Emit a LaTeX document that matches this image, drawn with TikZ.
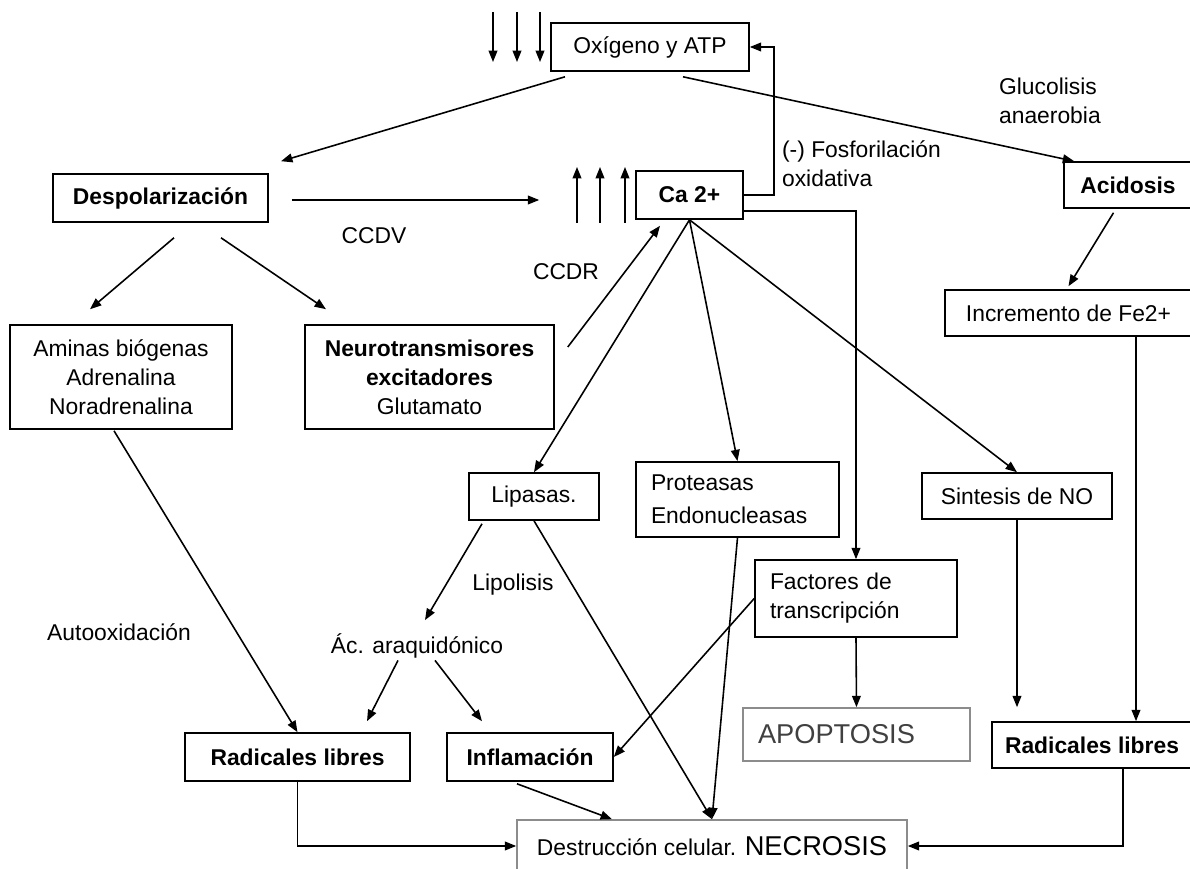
\documentclass[tikz,border=0pt]{standalone}
\usepackage{fontspec}
\setmainfont{Liberation Sans}
\usetikzlibrary{arrows.meta,calc,positioning}

\begin{document}
\begin{tikzpicture}[
    font=\fontsize{13}{16.5}\selectfont,
    box/.style={draw,line width=0.9pt,inner sep=2pt,align=center},
    lbox/.style={draw,line width=0.9pt,inner xsep=0.3cm,inner ysep=2pt,align=left},
    greybox/.style={draw=black!45,line width=0.9pt,inner sep=2pt},
    lbl/.style={inner sep=1pt,align=left},
    arr/.style={-{Triangle[length=6.5pt,width=5pt]},line width=0.9pt}]
  \useasboundingbox (0,0) rectangle (23.8,-17.38);
  % boxes
  \node[box,minimum width=3.96cm,minimum height=0.96cm] (oxy) at (13.0,-0.94) {Oxígeno y ATP};
  \node[box,minimum width=4.3cm,minimum height=0.96cm,font=\fontsize{13}{16.5}\selectfont\bfseries] (desp) at (3.21,-3.96) {Despolarización};
  \node[box,minimum width=2.14cm,minimum height=0.96cm,font=\fontsize{13}{16.5}\selectfont\bfseries] (ca) at (13.79,-3.90) {Ca 2+};
  \node[box,minimum width=2.56cm,minimum height=0.92cm,font=\fontsize{13}{16.5}\selectfont\bfseries] (acid) at (22.56,-3.70) {Acidosis};
  \node[box,minimum width=4.94cm,minimum height=0.92cm] (fe) at (21.37,-6.26) {Incremento de Fe2+};
  \node[box,minimum width=4.44cm,minimum height=2.08cm] (aminas) at (2.42,-7.54) {Aminas biógenas\\Adrenalina\\Noradrenalina};
  \node[box,minimum width=4.98cm,minimum height=2.08cm] (neuro) at (8.59,-7.54) {\textbf{Neurotransmisores}\\\textbf{excitadores}\\Glutamato};
  \node[box,minimum width=2.6cm,minimum height=0.94cm] (lip) at (10.68,-9.93) {Lipasas.};
  \node[lbox,text width=3.46cm,minimum height=1.5cm] (prot) at (14.75,-9.99) {Proteasas\\[2pt]Endonucleasas};
  \node[box,minimum width=3.8cm,minimum height=0.92cm] (sint) at (20.34,-9.92) {Sintesis de NO};
  \node[lbox,text width=3.44cm,minimum height=1.54cm] (fact) at (17.12,-11.97) {Factores de\\transcripción};
  \node[greybox,inner xsep=0.3cm,text width=3.94cm,align=left,minimum height=1.06cm,text=black!75,font=\fontsize{15.5}{18}\selectfont] (apop) at (17.13,-14.69) {APOPTOSIS};
  \node[box,minimum width=4.5cm,minimum height=0.96cm,font=\fontsize{13}{16.5}\selectfont\bfseries] (radl) at (5.95,-15.14) {Radicales libres};
  \node[box,minimum width=3.32cm,minimum height=0.96cm,font=\fontsize{13}{16.5}\selectfont\bfseries] (infl) at (10.6,-15.14) {Inflamación};
  \node[box,minimum width=4.0cm,minimum height=0.92cm,font=\fontsize{13}{16.5}\selectfont\bfseries] (radr) at (21.84,-14.90) {Radicales libres};
  \node[greybox,minimum width=7.8cm,minimum height=1.04cm] (necr) at (14.24,-16.92) {Destrucción celular. {\fontsize{15.5}{18}\selectfont NECROSIS}};
  % plain labels
  \node[lbl] (ccdv) at (7.48,-4.72) {CCDV};
  \node[lbl] (ccdr) at (11.32,-5.44) {CCDR};
  \node[lbl,anchor=west] (fosf) at (15.6,-3.28) {(-) Fosforilación\\oxidativa};
  \node[lbl,anchor=west] (gluc) at (19.94,-2.01) {Glucolisis\\anaerobia};
  \node[lbl] (lipo) at (10.26,-11.7) {Lipolisis};
  \node[lbl] (autox) at (2.38,-12.64) {Autooxidación};
  \node[lbl] (acar) at (8.34,-12.92) {Ác. araquidónico};
  % falling O2/ATP and rising Ca
  \foreach \x [count=\i] in {9.86,10.34,10.80} {
    \coordinate (dna\i) at (\x,-0.24);
    \coordinate (dnb\i) at (\x,-1.24);
    \draw[arr] (dna\i) -- (dnb\i);
  }
  \foreach \x [count=\i] in {11.54,12.0,12.5} {
    \coordinate (upa\i) at (\x,-4.46);
    \coordinate (upb\i) at (\x,-3.34);
    \draw[arr] (upa\i) -- (upb\i);
  }
  % connectors
  \draw[arr] ($(oxy.south)+(-1.70,-0.10)$) -- ($(desp.north)+(2.41,0.24)$);
  \draw[arr] ($(oxy.south)+(0.66,-0.10)$) -- ($(acid.north west)+(0.22,0)$);
  \draw[arr] ($(desp.east)+(0.46,-0.04)$) -- ($(ca.west)+(-1.92,-0.10)$);
  \draw[arr] (ca.east) -- ++(0.6,0) |- (oxy.east);
  \draw[arr] ($(ca.east)+(0,-0.32)$) -| (fact.north);
  \draw[arr] ($(desp.south)+(0.27,-0.30)$) -- ($(aminas.north)+(-0.62,0.30)$);
  \draw[arr] ($(desp.south)+(1.21,-0.30)$) -- ($(neuro.north)+(-2.07,0.30)$);
  \draw[arr] ($(neuro.east)+(0.26,0.60)$) -- ($(ca.south)+(-0.59,-0.12)$);
  \draw[arr] (ca.south) -- (lip.north);
  \draw[arr] (ca.south) -- (prot.north);
  \draw[arr] (ca.south) -- (sint.north);
  \draw[arr] ($(acid.south)+(-0.29,-0.08)$) -- ($(fe.north)+(0,0.06)$);
  \draw[arr] ($(fe.south)+(1.35,0)$) -- ($(radr.north)+(0.88,0)$);
  \draw[arr] (sint.south) -- ($(radr.north)+(-1.5,0.28)$);
  \draw[arr] ($(radr.south)+(0.62,0)$) |- (necr.east);
  \draw[arr] (radl.south) |- (necr.west);
  \draw[arr] ($(aminas.south)+(-0.14,-0.02)$) -- (radl.north);
  \draw[arr] ($(lip.south)+(-1.04,-0.06)$) -- ($(acar.north)+(0.16,0.23)$);
  \draw[arr] (lip.south) -- (necr.north);
  \draw[arr] (prot.south) -- (necr.north);
  \draw[arr] (fact.west) -- (infl.east);
  \draw[arr] (fact.south) -- (apop.north);
  \draw[arr] ($(acar.south)+(-0.38,0)$) -- ($(radl.north)+(1.39,0.22)$);
  \draw[arr] ($(acar.south)+(0.36,0)$) -- ($(infl.north)+(-0.96,0.22)$);
  \draw[arr] ($(infl.south)+(-0.26,-0.04)$) -- ($(necr.north)+(-2.0,0)$);
\end{tikzpicture}
\end{document}
